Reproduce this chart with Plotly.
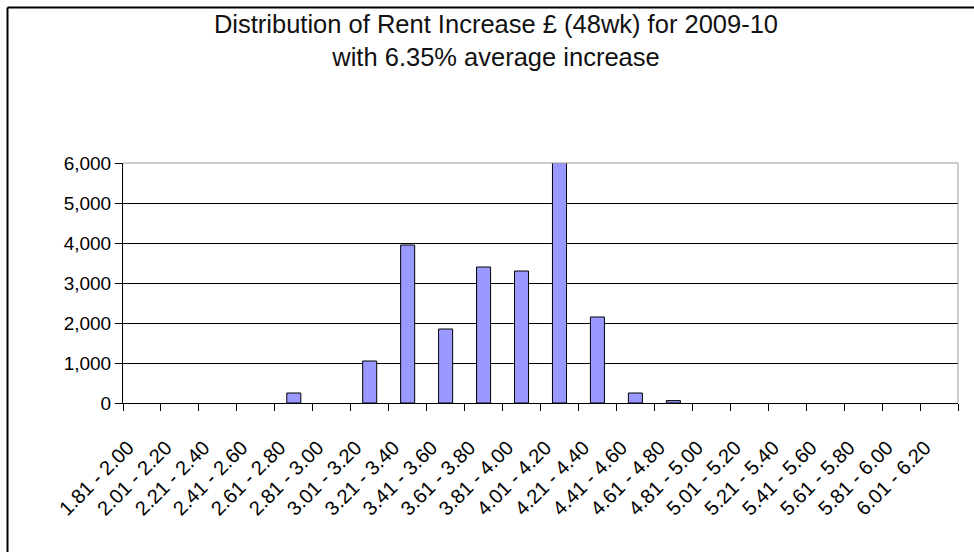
import plotly.graph_objects as go

categories = ["1.81 - 2.00", "2.01 - 2.20", "2.21 - 2.40", "2.41 - 2.60", "2.61 - 2.80",
              "2.81 - 3.00", "3.01 - 3.20", "3.21 - 3.40", "3.41 - 3.60", "3.61 - 3.80",
              "3.81 - 4.00", "4.01 - 4.20", "4.21 - 4.40", "4.41 - 4.60", "4.61 - 4.80",
              "4.81 - 5.00", "5.01 - 5.20", "5.21 - 5.40", "5.41 - 5.60", "5.61 - 5.80",
              "5.81 - 6.00", "6.01 - 6.20"]
counts = [0, 0, 0, 0, 250, 0, 1050, 3950, 1850, 3400, 3300, 6100, 2150, 250, 60,
          0, 0, 0, 0, 0, 0, 0]
y_ticks = [0, 1000, 2000, 3000, 4000, 5000, 6000]

title_text = "Distribution of Rent Increase £ (48wk) for 2009-10<br>with 6.35% average increase"

FONT = "Liberation Sans"

outline_widths = [1 if c > 0 else 0 for c in counts]

fig = go.Figure()
fig.add_trace(go.Bar(
    x=categories, y=counts,
    marker=dict(color="#9999FF", line=dict(color="black", width=outline_widths)),
    cliponaxis=False,
    hoverinfo="x+y",
))

W, H = 974, 552
L, R, T, B = 123, 16, 163, 149
pw, ph = W - L - R, H - T - B

def px_to_paper_x(px):
    return (px - L) / pw

def px_to_paper_y(py):
    return (H - B - py) / ph

fig.update_layout(
    width=W, height=H,
    margin=dict(l=L, r=R, t=T, b=B, pad=0),
    paper_bgcolor="white", plot_bgcolor="white",
    showlegend=False,
    bargap=0.63,
    font=dict(family=FONT, size=18, color="black"),
    title=dict(text=title_text, x=496 / W, xref="container", xanchor="center",
               y=1 - 33 / H, yanchor="top",
               font=dict(family=FONT, size=25.5, color="#111111")),
    xaxis=dict(
        type="category", tickson="boundaries", showgrid=False,
        showline=True, linecolor="black", linewidth=1,
        ticks="outside", ticklen=7, tickcolor="black", tickwidth=1,
        tickangle=-45, tickfont=dict(family=FONT, size=20, color="black"),
        ticklabelstandoff=24, ticklabelshift=-14,
    ),
    yaxis=dict(
        range=[0, 6000], tickvals=y_ticks, tickformat=",",
        showgrid=True, gridcolor="black", gridwidth=1,
        showline=True, linecolor="black", linewidth=1,
        ticks="outside", ticklen=7, tickcolor="black", tickwidth=1,
        tickfont=dict(family=FONT, size=19, color="black"),
        zeroline=False,
    ),
    shapes=[
        dict(type="line", xref="paper", yref="paper", x0=0, x1=1, y0=1, y1=1,
             line=dict(color="#999999", width=1), layer="above"),
        dict(type="line", xref="paper", yref="paper", x0=1, x1=1, y0=0, y1=1,
             line=dict(color="#999999", width=1), layer="above"),
        dict(type="line", xref="paper", yref="paper",
             x0=px_to_paper_x(7.5), x1=px_to_paper_x(980),
             y0=px_to_paper_y(7.5), y1=px_to_paper_y(7.5),
             line=dict(color="black", width=2)),
        dict(type="line", xref="paper", yref="paper",
             x0=px_to_paper_x(7.5), x1=px_to_paper_x(7.5),
             y0=px_to_paper_y(7.5), y1=px_to_paper_y(560),
             line=dict(color="black", width=2)),
    ],
)

fig.write_html("out.html", config={"displayModeBar": False},
               post_script="document.body.style.margin='0';document.body.style.overflow='hidden';")
